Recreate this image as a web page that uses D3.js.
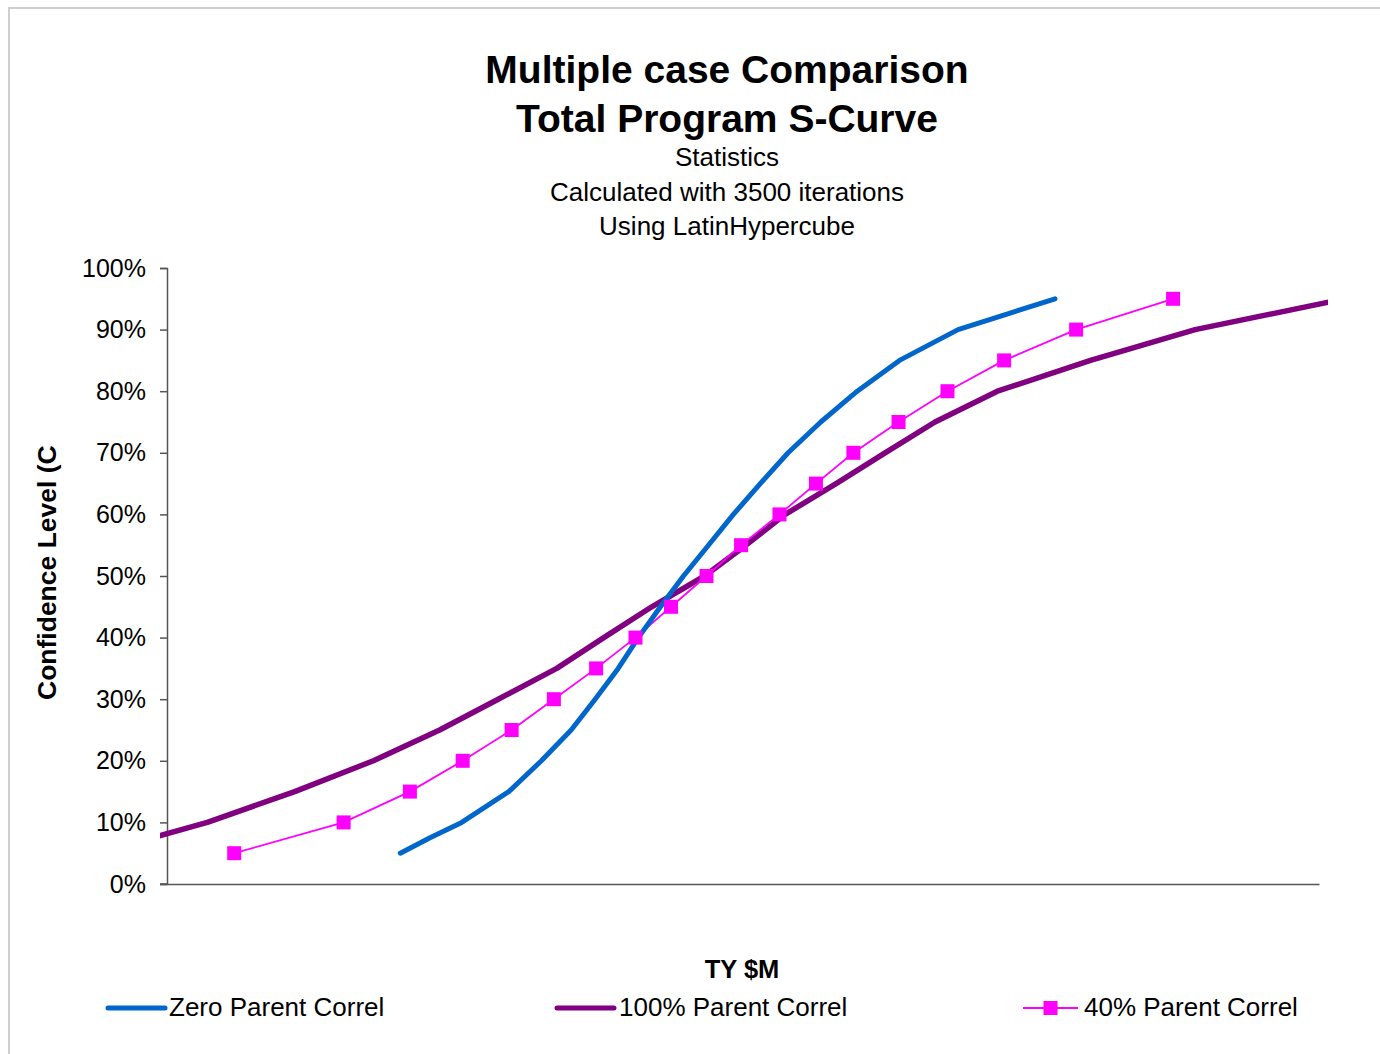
<!DOCTYPE html>
<html>
<head>
<meta charset="utf-8">
<script src="https://cdn.jsdelivr.net/npm/d3@7"></script>
<style>
  html, body { margin: 0; padding: 0; background: #fff; }
  svg { display: block; font-family: Arial, "Liberation Sans", sans-serif; }
</style>
</head>
<body>
<svg id="chart" width="1380" height="1054"></svg>
<script>
// Confidence levels (percentiles) for each simulated cost case
const levelsFine = [0.05, 0.075, 0.10, 0.15, 0.20, 0.25, 0.30, 0.35, 0.40, 0.45, 0.50,
                    0.55, 0.60, 0.65, 0.70, 0.75, 0.80, 0.85, 0.90, 0.95];
const levels = [0.05, 0.10, 0.15, 0.20, 0.25, 0.30, 0.35, 0.40, 0.45, 0.50,
                0.55, 0.60, 0.65, 0.70, 0.75, 0.80, 0.85, 0.90, 0.95];

// Cost (TY $M) at each confidence level
const zeroCorrel = [243, 274, 307, 356, 390, 421, 446, 470, 491, 514, 538,
                    564, 590, 618, 647, 681, 719, 763, 824, 925];
const fullCorrel = [-72, 42, 133, 215, 284, 345, 406, 455, 505, 560,
                    603, 644, 697, 748, 800, 865, 962, 1071, 1227];
const fortyCorrel = [70, 184, 253, 308, 359, 403, 447, 488, 525, 562,
                     598, 638, 676, 715, 762, 813, 872, 947, 1048];

const yTicks = [0, 0.1, 0.2, 0.3, 0.4, 0.5, 0.6, 0.7, 0.8, 0.9, 1.0];
const seriesNames = ["Zero Parent Correl", "100% Parent Correl", "40% Parent Correl"];
const seriesColors = ["#0066CC", "#800080", "#FF00FF"];

const titleLines = ["Multiple case Comparison", "Total Program S-Curve"];
const subtitleLines = ["Statistics", "Calculated with 3500 iterations", "Using LatinHypercube"];

const svg = d3.select("#chart");

// outer chart frame
svg.append("rect")
  .attr("x", 9).attr("y", 8).attr("width", 1500).attr("height", 1200)
  .attr("fill", "none").attr("stroke", "#cfcfcf").attr("stroke-width", 2);

const plot = { left: 167, right: 1319, top: 268, bottom: 884 };
const x = d3.scaleLinear().domain([0, 1200]).range([plot.left, plot.right]);
const y = d3.scaleLinear().domain([0, 1]).range([plot.bottom, plot.top]);

// titles
svg.selectAll("text.title").data(titleLines).join("text")
  .attr("class", "title")
  .attr("x", 727).attr("y", (d, i) => 83 + i * 49)
  .attr("text-anchor", "middle")
  .attr("font-size", 39).attr("font-weight", "bold").attr("fill", "#000")
  .text(d => d);

svg.selectAll("text.subtitle").data(subtitleLines).join("text")
  .attr("class", "subtitle")
  .attr("x", 727).attr("y", (d, i) => 166 + i * 34.5)
  .attr("text-anchor", "middle")
  .attr("font-size", 26).attr("fill", "#000")
  .text(d => d);

// y axis
const yAxis = d3.axisLeft(y).tickValues(yTicks).tickFormat(d3.format(".0%"))
  .tickSize(7).tickPadding(14);
const gy = svg.append("g").attr("transform", `translate(${plot.left},0)`).call(yAxis);
gy.select(".domain").attr("stroke", "#555").attr("stroke-width", 1.5);
gy.selectAll(".tick line").attr("stroke", "#555").attr("stroke-width", 1.5);
gy.selectAll(".tick text").attr("font-size", 25).attr("fill", "#000")
  .attr("font-family", "Arial, 'Liberation Sans', sans-serif");

// x axis (no tick labels)
const xAxis = d3.axisBottom(x).tickValues([]).tickSizeOuter(0);
const gx = svg.append("g").attr("transform", `translate(0,${plot.bottom})`).call(xAxis);
gx.select(".domain").attr("stroke", "#555").attr("stroke-width", 1.5);
svg.append("line")
  .attr("x1", plot.left - 7).attr("x2", plot.left)
  .attr("y1", plot.bottom).attr("y2", plot.bottom)
  .attr("stroke", "#555").attr("stroke-width", 1.5);

// axis titles (y title is cut by the chart's title area)
const yTitleClip = svg.append("clipPath").attr("id", "ytitle-clip");
yTitleClip.append("rect").attr("x", 0).attr("y", 446).attr("width", 80).attr("height", 300);
svg.append("g").attr("clip-path", "url(#ytitle-clip)")
  .append("text")
  .attr("transform", "translate(56,700) rotate(-90)")
  .attr("font-size", 26.5).attr("font-weight", "bold").attr("fill", "#000")
  .text("Confidence Level (CL)");

svg.append("text")
  .attr("x", 742).attr("y", 978).attr("text-anchor", "middle")
  .attr("font-size", 25.5).attr("font-weight", "bold").attr("fill", "#000")
  .text("TY $M");

// data lines
const clip = svg.append("clipPath").attr("id", "plot-clip");
clip.append("rect").attr("x", 160).attr("y", 200).attr("width", 1168).attr("height", 700);
const g = svg.append("g").attr("clip-path", "url(#plot-clip)");

const line = d3.line().x(d => x(d[0])).y(d => y(d[1]));

const zeroPts = zeroCorrel.map((v, i) => [v, levelsFine[i]]);
const fullPts = fullCorrel.map((v, i) => [v, levels[i]]);
const fortyPts = fortyCorrel.map((v, i) => [v, levels[i]]);

g.append("path").datum(fullPts).attr("d", line)
  .attr("fill", "none").attr("stroke", seriesColors[1]).attr("stroke-width", 5.5)
  .attr("stroke-linejoin", "round");

g.append("path").datum(fortyPts).attr("d", line)
  .attr("fill", "none").attr("stroke", seriesColors[2]).attr("stroke-width", 1.8);

g.append("path").datum(zeroPts).attr("d", line)
  .attr("fill", "none").attr("stroke", seriesColors[0]).attr("stroke-width", 5)
  .attr("stroke-linejoin", "round").attr("stroke-linecap", "round");

g.selectAll("rect.marker").data(fortyPts).join("rect")
  .attr("class", "marker")
  .attr("x", d => x(d[0]) - 7).attr("y", d => y(d[1]) - 7)
  .attr("width", 14).attr("height", 14)
  .attr("fill", seriesColors[2]);

// legend
const legendItems = [
  { name: seriesNames[0], color: seriesColors[0], x0: 108, x1: 165, tx: 169, marker: false, w: 5 },
  { name: seriesNames[1], color: seriesColors[1], x0: 557, x1: 614, tx: 619, marker: false, w: 5 },
  { name: seriesNames[2], color: seriesColors[2], x0: 1023, x1: 1078, tx: 1084, marker: true, w: 1.8 }
];
const ly = 1008;
const lg = svg.append("g");
legendItems.forEach(it => {
  lg.append("line")
    .attr("x1", it.x0).attr("x2", it.x1).attr("y1", ly).attr("y2", ly)
    .attr("stroke", it.color).attr("stroke-width", it.w)
    .attr("stroke-linecap", it.marker ? "butt" : "round");
  if (it.marker) {
    lg.append("rect").attr("x", (it.x0 + it.x1) / 2 - 7).attr("y", ly - 7)
      .attr("width", 14).attr("height", 14).attr("fill", it.color);
  }
  lg.append("text").attr("x", it.tx).attr("y", ly + 8)
    .attr("font-size", 26).attr("fill", "#000").text(it.name);
});
</script>
</body>
</html>
